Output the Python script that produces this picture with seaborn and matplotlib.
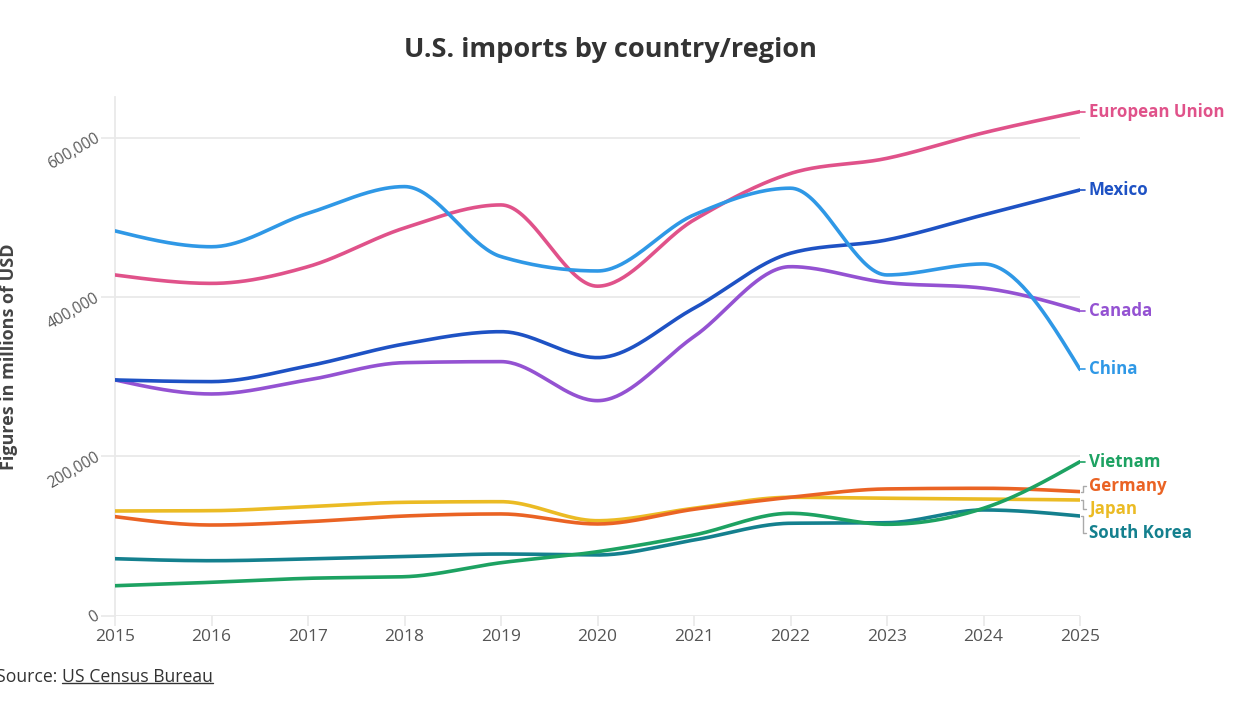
import numpy as np
import pandas as pd
import matplotlib
matplotlib.use("Agg")
import matplotlib.pyplot as plt
import seaborn as sns
from matplotlib.ticker import FuncFormatter

# ---------------- data (millions of USD) ----------------
years = [2015, 2016, 2017, 2018, 2019, 2020, 2021, 2022, 2023, 2024, 2025]
european_union = [427600, 417000, 438000, 486600, 515500, 413500, 496700, 555000, 574000, 606000, 632600]
mexico = [295800, 293700, 313400, 341000, 356400, 323800, 385800, 454900, 471600, 503000, 534300]
canada = [295800, 278200, 295800, 317500, 318800, 269800, 350200, 438000, 418000, 411000, 382800]
china = [482900, 463000, 505000, 538500, 450600, 432600, 503000, 536500, 427600, 441400, 309000]
vietnam = [37500, 41800, 46800, 48800, 66400, 80200, 101200, 128400, 114600, 134700, 193200]
germany = [124200, 113700, 117900, 125000, 127600, 115000, 133500, 148500, 159000, 159800, 155600]
japan = [131300, 131700, 136700, 142200, 143000, 119100, 134700, 148500, 147300, 146400, 145100]
south_korea = [71400, 68900, 71100, 74000, 77300, 76100, 94900, 115900, 116600, 132600, 125000]

series_names = ["European Union", "Mexico", "Canada", "China",
                "Vietnam", "Germany", "Japan", "South Korea"]
series_values = [european_union, mexico, canada, china,
                 vietnam, germany, japan, south_korea]
y_ticks = [0, 200000, 400000, 600000]

title_text = "U.S. imports by country/region"
y_label_text = "Figures in millions of USD"

# ---------------- styles ----------------
colors = {
    "European Union": "#E0528A",
    "Mexico": "#1E52C4",
    "Canada": "#9452D2",
    "China": "#2F98E6",
    "Vietnam": "#1DA262",
    "Germany": "#EA6324",
    "Japan": "#EBBB24",
    "South Korea": "#14808E",
}
# label vertical offsets (in value units) from the end point, for layout only
label_offsets = {
    "European Union": 0, "Mexico": 0, "Canada": 0, "China": 0,
    "Vietnam": 0, "Germany": 7000, "Japan": -11300, "South Korea": -21300,
}


def monotone_curve(x, y, n=40):
    """Monotone cubic (d3 curveMonotoneX-like) smoothing for drawing."""
    x = np.asarray(x, float)
    y = np.asarray(y, float)
    k = len(x)
    h = np.diff(x)
    s = np.diff(y) / h
    t = np.zeros(k)
    for i in range(1, k - 1):
        s0, s1 = s[i - 1], s[i]
        p = (s0 * h[i] + s1 * h[i - 1]) / (h[i - 1] + h[i])
        t[i] = (np.sign(s0) + np.sign(s1)) * min(abs(s0), abs(s1), 0.5 * abs(p))
    t[0] = (3 * s[0] - t[1]) / 2
    t[-1] = (3 * s[-1] - t[-2]) / 2
    xs, ys = [], []
    for i in range(k - 1):
        u = np.linspace(0, 1, n, endpoint=(i == k - 2))
        h00 = 2 * u**3 - 3 * u**2 + 1
        h10 = u**3 - 2 * u**2 + u
        h01 = -2 * u**3 + 3 * u**2
        h11 = u**3 - u**2
        xs.append(x[i] + u * h[i])
        ys.append(h00 * y[i] + h10 * h[i] * t[i] + h01 * y[i + 1] + h11 * h[i] * t[i + 1])
    return np.concatenate(xs), np.concatenate(ys)


rows = []
for name, vals in zip(series_names, series_values):
    xs, ys = monotone_curve(years, vals)
    rows.append(pd.DataFrame({"year": xs, "value": ys, "region": name}))
df = pd.concat(rows, ignore_index=True)

sns.set_theme(style="white")
plt.rcParams["font.family"] = ["Open Sans", "DejaVu Sans"]

fig = plt.figure(figsize=(12.5, 7.12), dpi=100)
ax = fig.add_axes([0.092, 0.1354, 0.772, 0.7284])

grid_c = "#E9E9E9"
for yt in y_ticks:
    ax.axhline(yt, color=grid_c, lw=1.3, zorder=0)

draw_order = ["Japan", "Germany", "South Korea", "Vietnam", "Canada", "Mexico", "European Union", "China"]
for name in draw_order:
    sub = df[df["region"] == name]
    sns.lineplot(data=sub, x="year", y="value", color=colors[name], lw=2.6,
                 sort=False, estimator=None, ax=ax, legend=False, zorder=3)

ax.set_xlim(years[0], years[-1])
ax.set_ylim(0, 651000)
ax.set_xticks(years)
ax.set_xticklabels([str(y) for y in years])
ax.set_yticks(y_ticks)
ax.yaxis.set_major_formatter(FuncFormatter(lambda v, p: f"{int(v):,}"))
for sp in ["top", "right", "bottom"]:
    ax.spines[sp].set_visible(False)
ax.spines["left"].set_color(grid_c)
ax.spines["left"].set_linewidth(1.3)
ax.tick_params(axis="x", length=7, width=1.2, color=grid_c, labelsize=12.5,
               labelcolor="#555555", pad=3, direction="out", bottom=True)
ax.tick_params(axis="y", length=10, width=1.2, color=grid_c, labelsize=11.2,
               labelcolor="#5a5a5a", pad=2, left=True)
for lbl in ax.get_yticklabels():
    lbl.set_rotation(30)
    lbl.set_ha("right")
    lbl.set_va("center")
    lbl.set_rotation_mode("anchor")
ax.set_xlabel("")
ax.set_ylabel(y_label_text, fontsize=13, fontweight="bold", color="#444444")
ax.yaxis.set_label_coords(-0.1005, 0.5)

# end labels
px_year = 1.0 / 96.5  # one pixel in year units
for name, vals in zip(series_names, series_values):
    yend = vals[-1]
    ylab = yend + label_offsets[name]
    c = colors[name]
    if label_offsets[name] == 0:
        ax.plot([years[-1], years[-1] + 5 * px_year], [yend, yend], color=c, lw=1.2,
                clip_on=False, zorder=3)
    else:
        xb = years[-1] + 3 * px_year
        ax.plot([years[-1] + 1 * px_year, xb, xb, years[-1] + 6 * px_year],
                [yend, yend, ylab, ylab], color="#AAAAAA", lw=1.0, clip_on=False, zorder=3)
    ax.text(years[-1] + 9 * px_year, ylab, name, color=c, fontsize=12.2, fontweight="bold",
            ha="left", va="center", clip_on=False)

fig.text(0.488, 0.930, title_text, ha="center", va="center", fontsize=19.5,
         fontweight="bold", color="#333333")

src1 = fig.text(-0.003, 0.049, "Source: ", ha="left", va="center", fontsize=12.7, color="#333333")
fig.canvas.draw()
r = fig.canvas.get_renderer()
bb = src1.get_window_extent(r)
x2 = bb.x1 / fig.bbox.width
src2 = fig.text(x2, 0.049, "US Census Bureau", ha="left", va="center", fontsize=12.7, color="#333333")
bb2 = src2.get_window_extent(r)
yu = (bb2.y0 + 3) / fig.bbox.height
fig.add_artist(plt.Line2D([bb2.x0 / fig.bbox.width, bb2.x1 / fig.bbox.width], [yu, yu],
                          color="#333333", lw=1.0, transform=fig.transFigure))

fig.savefig("out.png", dpi=100, facecolor="white")
